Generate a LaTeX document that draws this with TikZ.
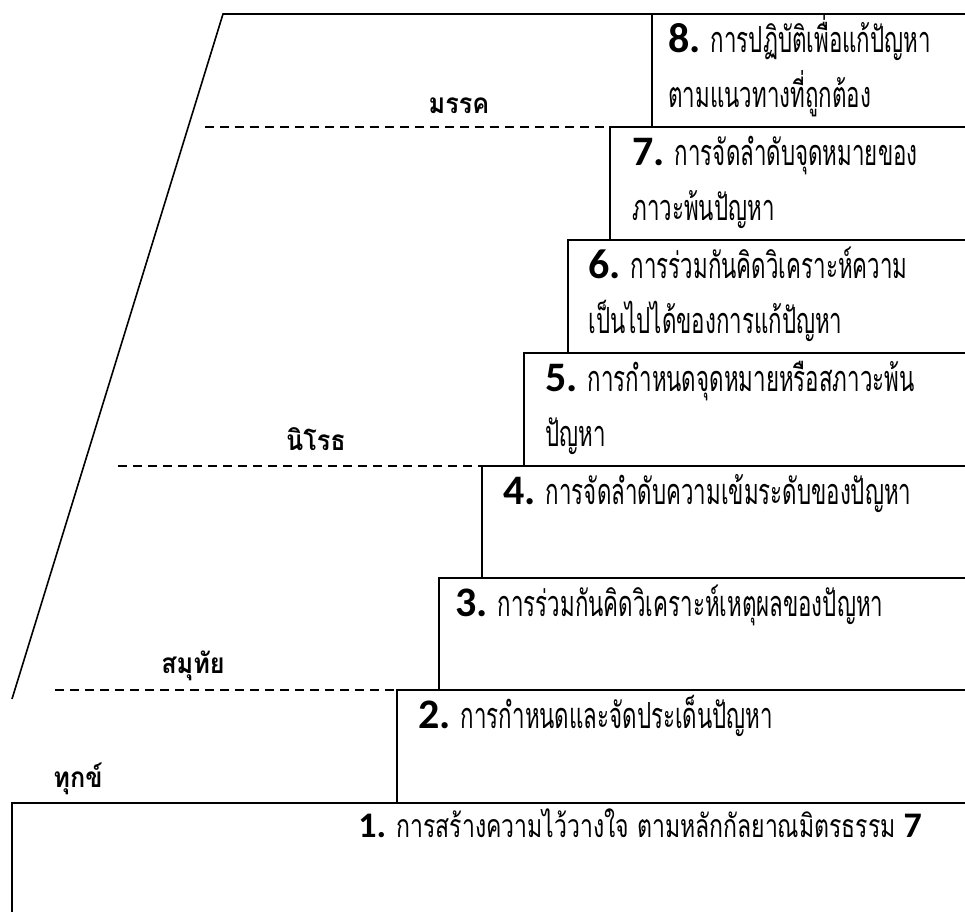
\documentclass[tikz,border=0pt]{standalone}
\usepackage{fontspec}
\setmainfont{Carlito}
\newfontfamily\thaifont[Script=Thai, FakeStretch=0.62]{Loma}
\newfontfamily\thaismall[Script=Thai, FakeStretch=0.72]{Loma}
\newfontfamily\thailabel[Script=Thai, FakeStretch=0.9]{Loma}
\usetikzlibrary{positioning}

\newcommand{\stepnum}[1]{{\rmfamily\bfseries\fontsize{21}{25}\selectfont #1}}

\tikzset{
	boxtext/.style={anchor=base west, inner sep=0pt, font=\thaifont\fontsize{18}{22}\selectfont},
	basetext/.style={anchor=base west, inner sep=0pt, font=\thaismall\fontsize{16}{19}\selectfont},
	levellabel/.style={anchor=base, inner sep=0pt, font=\thailabel\bfseries\fontsize{14}{17}\selectfont},
	levelline/.style={dash pattern=on 4.5pt off 3pt, line width=0.7pt},
	stepline/.style={line width=1pt},
}

\begin{document}
\begin{tikzpicture}[x=0.5pt, y=-0.5pt]
		\useasboundingbox (0,0) rectangle (965,912);

		% outer slope and top edge
		\coordinate (topleft) at (223,14);
		\coordinate (topright) at (965,14);
		\coordinate (footleft) at (12,699);
		\draw [line width=0.8pt] (footleft) -- (topleft) -- (topright);

		% the steps, from top to bottom
		\foreach \lx/\ty in {652/14, 610/127, 568/240, 524/353, 482/466, 439/578, 397/690}
			\draw [stepline] (965,\ty) -- (\lx,\ty) -- (\lx,\ty+113);
		\draw [stepline] (965,803) -- (12,803) -- (12,912);

		% dashed level lines
		\draw [levelline] (205,127) -- (610,127);
		\draw [levelline] (118,466) -- (482,466);
		\draw [levelline] (55,690) -- (397,690);

		% level names
		\node [levellabel] (magga) at (459,113) {มรรค};
		\node [levellabel] (nirodha) at (316,450) {นิโรธ};
		\node [levellabel] (samudaya) at (193,673) {สมุทัย};
		\node [levellabel] (dukkha) at (78,787) {ทุกข์};

		% step texts
		\node [boxtext] (s8a) at (668,52) {\stepnum{8.} การปฏิบัติเพื่อแก้ปัญหา};
		\node [boxtext] (s8b) at (668,107) {ตามแนวทางที่ถูกต้อง};

		\node [boxtext] (s7a) at (632,165) {\stepnum{7.} การจัดลำดับจุดหมายของ};
		\node [boxtext] (s7b) at (632,220) {ภาวะพ้นปัญหา};

		\node [boxtext] (s6a) at (588,278) {\stepnum{6.} การร่วมกันคิดวิเคราะห์ความ};
		\node [boxtext] (s6b) at (588,333) {เป็นไปได้ของการแก้ปัญหา};

		\node [boxtext] (s5a) at (545,391) {\stepnum{5.} การกำหนดจุดหมายหรือสภาวะพ้น};
		\node [boxtext] (s5b) at (545,446) {ปัญหา};

		\node [boxtext] (s4a) at (503,504) {\stepnum{4.} การจัดลำดับความเข้มระดับของปัญหา};

		\node [boxtext] (s3a) at (455,616) {\stepnum{3.} การร่วมกันคิดวิเคราะห์เหตุผลของปัญหา};

		\node [boxtext] (s2a) at (418,728) {\stepnum{2.} การกำหนดและจัดประเด็นปัญหา};

		\node [basetext] (s1a) at (358,837) {{\rmfamily\bfseries\fontsize{18}{21}\selectfont 1.} การสร้างความไว้วางใจ ตามหลักกัลยาณมิตรธรรม {\rmfamily\bfseries\fontsize{18}{21}\selectfont 7}};

	\end{tikzpicture}
\end{document}
